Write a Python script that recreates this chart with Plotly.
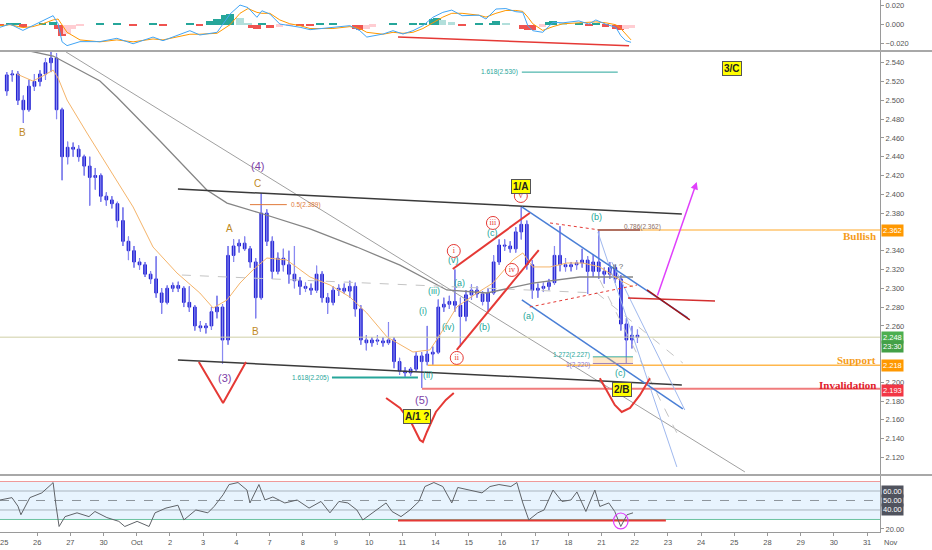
import plotly.graph_objects as go

# ---------------- axis / calendar ----------------
tick_labels = ["25", "26", "27", "30", "Oct", "2", "3", "4", "7", "8", "9", "10", "11", "14",
               "15", "16", "17", "18", "21", "22", "23", "24", "25", "28", "29", "30", "31", "Nov"]
BARS_PER_DAY = 6  # 4-hour bars, x unit = one trading day

# ---------------- price bars (OHLC) ----------------
opens = [2.510, 2.527, 2.528, 2.500, 2.490, 2.515,
         2.520, 2.528, 2.540, 2.545, 2.490, 2.440,
         2.450, 2.448, 2.440, 2.430, 2.418, 2.420,
         2.398, 2.394, 2.390, 2.372, 2.350, 2.340,
         2.328, 2.325, 2.315, 2.310, 2.295, 2.285,
         2.300, 2.303, 2.300, 2.285, 2.280, 2.260,
         2.258, 2.260, 2.275, 2.280, 2.245, 2.335,
         2.345, 2.348, 2.342, 2.328, 2.290, 2.380,
         2.350, 2.318, 2.332, 2.325, 2.315, 2.308,
         2.302, 2.300, 2.298, 2.315, 2.290, 2.285,
         2.298, 2.300, 2.297, 2.302, 2.278, 2.245,
         2.242, 2.245, 2.244, 2.242, 2.245, 2.222,
         2.212, 2.210, 2.214, 2.228, 2.222, 2.230,
         2.232, 2.280, 2.283, 2.286, 2.282, 2.270,
         2.293, 2.298, 2.294, 2.286, 2.295, 2.328,
         2.346, 2.345, 2.342, 2.360, 2.368, 2.325,
         2.298, 2.300, 2.302, 2.306, 2.335, 2.325,
         2.323, 2.325, 2.327, 2.330, 2.318, 2.328,
         2.318, 2.315, 2.322, 2.310, 2.262, 2.245,
         2.250]
highs = [2.530, 2.532, 2.531, 2.505, 2.522, 2.528,
         2.532, 2.545, 2.556, 2.550, 2.492, 2.456,
         2.455, 2.452, 2.442, 2.440, 2.428, 2.422,
         2.402, 2.398, 2.392, 2.386, 2.355, 2.345,
         2.332, 2.328, 2.318, 2.334, 2.300, 2.303,
         2.306, 2.307, 2.302, 2.302, 2.282, 2.265,
         2.263, 2.280, 2.292, 2.283, 2.345, 2.352,
         2.352, 2.355, 2.345, 2.332, 2.401, 2.384,
         2.355, 2.338, 2.342, 2.340, 2.345, 2.312,
         2.306, 2.305, 2.324, 2.318, 2.295, 2.302,
         2.304, 2.305, 2.308, 2.306, 2.282, 2.250,
         2.248, 2.250, 2.248, 2.264, 2.248, 2.226,
         2.216, 2.216, 2.232, 2.232, 2.260, 2.238,
         2.288, 2.290, 2.292, 2.320, 2.290, 2.298,
         2.304, 2.302, 2.297, 2.300, 2.335, 2.352,
         2.352, 2.350, 2.365, 2.387, 2.372, 2.330,
         2.305, 2.306, 2.310, 2.345, 2.366, 2.332,
         2.328, 2.330, 2.342, 2.334, 2.336, 2.362,
         2.322, 2.328, 2.325, 2.314, 2.268, 2.260,
         2.256]
lows = [2.505, 2.520, 2.495, 2.476, 2.488, 2.510,
        2.515, 2.522, 2.530, 2.480, 2.415, 2.432,
        2.440, 2.435, 2.420, 2.388, 2.405, 2.392,
        2.388, 2.385, 2.365, 2.345, 2.330, 2.322,
        2.320, 2.312, 2.305, 2.290, 2.273, 2.283,
        2.296, 2.296, 2.280, 2.275, 2.255, 2.254,
        2.252, 2.256, 2.268, 2.220, 2.240, 2.328,
        2.338, 2.340, 2.322, 2.268, 2.288, 2.345,
        2.310, 2.315, 2.318, 2.305, 2.300, 2.293,
        2.296, 2.293, 2.295, 2.285, 2.273, 2.282,
        2.292, 2.294, 2.290, 2.270, 2.240, 2.234,
        2.238, 2.240, 2.238, 2.240, 2.215, 2.208,
        2.206, 2.207, 2.212, 2.194, 2.218, 2.218,
        2.230, 2.275, 2.278, 2.275, 2.238, 2.265,
        2.288, 2.290, 2.282, 2.276, 2.293, 2.325,
        2.340, 2.338, 2.338, 2.352, 2.320, 2.289,
        2.290, 2.296, 2.298, 2.304, 2.318, 2.318,
        2.318, 2.320, 2.322, 2.294, 2.312, 2.310,
        2.305, 2.310, 2.306, 2.255, 2.220, 2.236,
        2.242]
closes = [2.527, 2.528, 2.500, 2.490, 2.515, 2.520,
          2.528, 2.540, 2.545, 2.490, 2.440, 2.450,
          2.448, 2.440, 2.430, 2.418, 2.420, 2.398,
          2.394, 2.390, 2.372, 2.350, 2.340, 2.328,
          2.325, 2.315, 2.310, 2.295, 2.285, 2.300,
          2.303, 2.300, 2.285, 2.280, 2.260, 2.258,
          2.260, 2.275, 2.280, 2.245, 2.335, 2.345,
          2.348, 2.342, 2.328, 2.290, 2.380, 2.350,
          2.318, 2.332, 2.325, 2.315, 2.308, 2.302,
          2.300, 2.298, 2.315, 2.290, 2.285, 2.298,
          2.300, 2.297, 2.302, 2.278, 2.245, 2.242,
          2.245, 2.244, 2.242, 2.245, 2.222, 2.212,
          2.210, 2.214, 2.228, 2.222, 2.230, 2.232,
          2.280, 2.283, 2.286, 2.282, 2.270, 2.293,
          2.298, 2.294, 2.286, 2.295, 2.328, 2.346,
          2.345, 2.342, 2.360, 2.368, 2.325, 2.298,
          2.300, 2.302, 2.306, 2.335, 2.325, 2.323,
          2.325, 2.327, 2.330, 2.318, 2.328, 2.318,
          2.315, 2.322, 2.310, 2.262, 2.245, 2.250,
          2.248]

# ---------------- moving averages ----------------
ma_fast_x = [0.39, 0.87, 1.17, 1.48, 1.63, 1.90, 2.50, 3.19, 3.89, 4.49, 5.21, 5.90, 6.30, 6.72,
             7.11, 7.50, 7.92, 8.52, 9.22, 9.82, 10.42, 10.93, 11.54, 12.32, 12.83, 13.13, 13.64,
             14.25, 14.73, 15.33, 15.63, 15.93, 16.45, 16.96, 17.44, 17.95, 18.55, 18.95]
ma_fast_y = [2.5279, 2.5205, 2.5258, 2.5322, 2.5237, 2.5003, 2.4652, 2.4259, 2.3865, 2.3439,
             2.3163, 2.2950, 2.2790, 2.2876, 2.3056, 2.3195, 2.3322, 2.3301, 2.3120, 2.3035,
             2.2907, 2.2737, 2.2482, 2.2322, 2.2344, 2.2503, 2.2801, 2.2950, 2.3056, 2.3301,
             2.3376, 2.3227, 2.3227, 2.3269, 2.3269, 2.3227, 2.3088, 2.3014]
ma_slow_x = [-0.12, 0.48, 1.48, 2.89, 3.40, 4.70, 6.11, 6.72, 7.71, 9.22, 10.63, 11.93, 13.34,
             14.55, 15.93, 17.35, 18.95]
ma_slow_y = [2.5567, 2.5546, 2.5471, 2.5205, 2.5035, 2.4567, 2.4046, 2.3907, 2.3801, 2.3631,
             2.3439, 2.3246, 2.2982, 2.2950, 2.3056, 2.3120, 2.3120]

# ---------------- MACD panel ----------------
macd_x = [-0.12, 0.18, 0.57, 0.87, 1.17, 1.48, 1.63, 1.75, 1.90, 2.29, 2.89, 3.40, 3.89, 4.49,
          4.79, 5.60, 5.90, 6.42, 6.81, 7.11, 7.35, 7.62, 7.77, 8.01, 8.31, 8.61, 8.92, 9.22,
          9.91, 10.42, 10.72, 10.93, 11.42, 11.72, 12.02, 12.32, 12.62, 12.92, 13.22, 13.49,
          13.80, 14.31, 14.52, 14.82, 15.12, 15.42, 15.63, 15.78, 15.93, 16.23, 16.54, 16.84,
          17.32, 17.62, 17.83, 18.13, 18.43, 18.58, 18.73, 18.89]
macd_line = [-0.0027, 0.0007, -0.0060, -0.0010, 0.0040, 0.0095, 0.0010, -0.0180, -0.0220,
             -0.0178, -0.0178, -0.0143, -0.0200, -0.0130, -0.0168, -0.0063, -0.0108, -0.0080,
             0.0112, 0.0207, 0.0180, 0.0078, 0.0147, 0.0112, 0.0007, -0.0010, -0.0027, -0.0052,
             -0.0027, -0.0010, -0.0063, -0.0130, -0.0098, -0.0063, -0.0098, -0.0063, -0.0010,
             0.0078, 0.0130, 0.0154, 0.0095, 0.0100, 0.0060, 0.0165, 0.0170, 0.0137, 0.0130,
             -0.0010, -0.0063, -0.0080, 0.0025, 0.0020, 0.0040, 0.0007, 0.0050, 0.0005, -0.0027,
             -0.0115, -0.0168, -0.0185]
macd_signal = [-0.0010, 0.0000, -0.0030, -0.0020, 0.0010, 0.0050, 0.0060, 0.0000, -0.0080,
               -0.0160, -0.0180, -0.0160, -0.0180, -0.0150, -0.0160, -0.0100, -0.0100, -0.0090,
               0.0000, 0.0120, 0.0170, 0.0130, 0.0120, 0.0120, 0.0050, 0.0010, -0.0010, -0.0040,
               -0.0040, -0.0020, -0.0040, -0.0080, -0.0100, -0.0080, -0.0090, -0.0080, -0.0040,
               0.0020, 0.0080, 0.0120, 0.0120, 0.0100, 0.0080, 0.0120, 0.0150, 0.0150, 0.0140,
               0.0080, 0.0010, -0.0060, -0.0020, 0.0010, 0.0020, 0.0020, 0.0030, 0.0020, 0.0000,
               -0.0040, -0.0100, -0.0160]
hist_x = [-0.12, 0.18, 0.39, 0.57, 0.87, 1.17, 1.48, 1.63, 1.75, 1.90, 2.05, 2.29, 2.89, 3.40,
          3.89, 4.49, 4.79, 5.60, 5.90, 6.20, 6.42, 6.66, 6.81, 7.11, 7.35, 7.47, 7.62, 7.77,
          8.01, 8.31, 8.61, 8.92, 9.22, 9.52, 9.91, 10.42, 10.60, 10.72, 10.93, 11.11, 11.42,
          11.72, 12.02, 12.32, 12.62, 12.92, 13.04, 13.22, 13.49, 13.80, 14.04, 14.31, 14.52,
          14.73, 14.82, 15.12, 15.42, 15.63, 15.78, 15.93, 16.23, 16.42, 16.54, 16.84, 17.32,
          17.62, 17.83, 18.13, 18.43, 18.58, 18.73, 18.89]
hist_vals = [-0.001, 0.001, 0.001, -0.002, 0.000, 0.002, 0.003, -0.004, -0.012, -0.010, -0.005,
             -0.001, 0.001, 0.001, -0.001, 0.002, -0.001, 0.002, -0.001, 0.004, 0.006, 0.010,
             0.011, 0.007, 0.002, -0.003, -0.005, 0.001, -0.003, -0.002, -0.001, -0.001, -0.001,
             0.001, 0.001, 0.000, -0.004, -0.006, -0.005, -0.002, 0.000, 0.001, 0.000, 0.002,
             0.002, 0.006, 0.007, 0.005, 0.003, -0.001, 0.000, 0.001, 0.000, 0.002, 0.004, 0.002,
             0.000, -0.004, -0.006, -0.006, -0.002, 0.003, 0.004, 0.001, 0.001, -0.001, 0.001,
             -0.002, -0.004, -0.006, -0.005, -0.003]
macd_div_x = [11.87, 18.83]
macd_div_y = [-0.0129, -0.0221]

# ---------------- RSI panel ----------------
rsi_x = [-0.12, 0.24, 0.42, 0.51, 0.78, 1.14, 1.42, 1.48, 1.57, 1.66, 1.84, 2.20, 2.56, 2.74,
         3.10, 3.46, 3.64, 4.01, 4.37, 4.55, 4.88, 5.24, 5.42, 5.78, 6.14, 6.33, 6.60, 6.78,
         7.05, 7.32, 7.41, 7.68, 7.86, 8.10, 8.46, 8.83, 9.19, 9.55, 9.82, 10.09, 10.36, 10.63,
         10.81, 11.17, 11.51, 11.69, 11.96, 12.23, 12.50, 12.68, 12.95, 13.22, 13.49, 13.67,
         14.04, 14.40, 14.64, 14.91, 15.27, 15.45, 15.63, 15.81, 16.08, 16.27, 16.54, 16.81,
         17.08, 17.26, 17.53, 17.80, 17.95, 18.22, 18.40, 18.58, 18.77, 18.95]
rsi_vals = [50.5, 53.0, 44.0, 35.0, 53.0, 58.0, 66.8, 68.9, 44.0, 22.6, 33.0, 37.0, 33.0, 38.4,
            32.0, 28.0, 22.6, 28.0, 22.6, 37.0, 42.0, 45.0, 29.5, 40.0, 37.0, 43.7, 56.0, 66.8,
            68.9, 61.0, 47.4, 66.8, 50.5, 53.7, 47.4, 50.5, 42.0, 49.0, 37.0, 49.0, 47.4, 40.0,
            29.5, 38.4, 47.4, 38.4, 33.0, 40.0, 49.0, 64.7, 68.9, 64.7, 47.4, 63.7, 61.0, 58.0,
            64.7, 66.8, 64.7, 68.9, 47.4, 29.5, 37.0, 40.0, 61.0, 49.0, 50.5, 59.0, 38.4, 61.0,
            43.7, 47.4, 38.4, 22.6, 35.0, 37.0]
rsi_upper, rsi_lower = 70, 30
rsi_guides = [60, 50, 40]
rsi_div_x = [11.87, 19.94]
rsi_div_y = [29.0, 29.0]
rsi_circle_x = [18.36, 18.80]
rsi_circle_y = [20.0, 36.8]

# ---------------- chart drawings (day index, price) ----------------
chan_up_x, chan_up_y = [5.24, 20.42], [2.4056, 2.3790]
chan_lo_x, chan_lo_y = [5.24, 20.42], [2.2237, 2.1971]
long_trend_x, long_trend_y = [1.87, 22.32], [2.5514, 2.1046]
blue_up_x, blue_up_y = [15.60, 20.60], [2.3865, 2.2684]
blue_lo_x, blue_lo_y = [15.60, 20.45], [2.2876, 2.1716]
lb1_x, lb1_y = [17.89, 20.27], [2.3599, 2.1099]
lb2_x, lb2_y = [18.31, 20.51], [2.3280, 2.1705]
dash1_x, dash1_y = [5.36, 17.86], [2.3141, 2.2950]
dash2_x, dash2_y = [17.86, 20.45], [2.2950, 2.2205]
dash3_x, dash3_y = [17.95, 20.27], [2.3088, 2.1461]
red_up_x, red_up_y = [13.52, 15.84], [2.3205, 2.3801]
red_lo_x, red_lo_y = [13.64, 16.11], [2.2344, 2.3407]
red_dot1_x, red_dot1_y = [16.45, 17.95], [2.3695, 2.3620]
red_dot2_x, red_dot2_y = [15.84, 19.07], [2.2801, 2.3035]
red_flat_x, red_flat_y = [18.80, 21.42], [2.2897, 2.2865]
red_diag_x, red_diag_y = [19.37, 20.66], [2.2982, 2.2663]
v3_x, v3_y = [5.87, 6.60, 7.29], [2.2216, 2.1780, 2.2216]
v5_x = [11.51, 11.93, 12.29, 12.53, 12.62, 12.74, 13.01, 13.31, 13.55]
v5_y = [2.1833, 2.1727, 2.1556, 2.1386, 2.1365, 2.1471, 2.1684, 2.1812, 2.1886]
v2b_x = [17.95, 18.19, 18.40, 18.61, 18.86, 19.16, 19.46]
v2b_y = [2.2043, 2.1895, 2.1758, 2.1684, 2.1727, 2.1865, 2.2043]
arrow_from = (19.67, 2.2907)
arrow_to = (20.87, 2.4131)

bullish_level, bullish_start = 2.362, 17.89
support_level, support_start = 2.218, 12.77
invalid_level, invalid_start = 2.193, 12.59
last_price = 2.248

fib_half_x, fib_half_y = [7.41, 8.52], 2.389
fib_1618a_x, fib_1618a_y = [9.88, 12.47], 2.205
fib_1272_x, fib_1272_y = [17.74, 18.95], 2.227
fib_100_x, fib_100_y = [17.74, 18.95], 2.220
fib_786_x, fib_786_y = [17.89, 19.16], 2.362
fib_1618b_x, fib_1618b_y = [15.60, 18.49], 2.530

purple_lbl = ["(4)", "(3)", "(5)"]
purple_x = [7.65, 6.63, 12.59]
purple_y = [2.4301, 2.2046, 2.1812]
brown_lbl = ["B", "C", "A", "B"]
brown_x = [0.56, 7.65, 6.78, 7.59]
brown_y = [2.4655, 2.4120, 2.3631, 2.2535]
teal_lbl = ["(i)", "(ii)", "(iii)", "(iv)", "(v)", "(a)", "(b)", "(c)", "(a)", "(b)", "(c)"]
teal_x = [12.62, 12.77, 12.95, 13.40, 13.55, 13.73, 14.49, 14.73, 15.81, 17.86, 18.58]
teal_y = [2.2759, 2.2078, 2.2971, 2.2588, 2.3301, 2.3056, 2.2588, 2.3588, 2.2705, 2.3759, 2.2099]
circ_lbl = ["i", "ii", "iii", "iv", "v"]
circ_x = [13.55, 13.64, 14.73, 15.30, 15.57]
circ_y = [2.3397, 2.2259, 2.3695, 2.3195, 2.3982]
box_lbl = ["1/A", "A/1 ?", "2/B", "3/C"]
box_x = [15.57, 12.44, 18.61, 21.93]
box_y = [2.4088, 2.1641, 2.1918, 2.5343]
q_lbl, q_x, q_y = "ii ?", 18.52, 2.3227

# price ticks (2.360, 2.240, 2.220 sit under the coloured price badges)
price_ticks = [2.12, 2.14, 2.16, 2.18, 2.20, 2.26, 2.28, 2.30, 2.32, 2.34,
               2.38, 2.40, 2.42, 2.44, 2.46, 2.48, 2.50, 2.52, 2.54]
macd_ticks = [-0.02, 0.0, 0.02]

# ---------------- build figure ----------------
X_RANGE = [-0.12, 26.39]
bar_x = [(i + 0.5) / BARS_PER_DAY for i in range(len(closes))]
fig = go.Figure()


def line(xs, ys, color, width=1.0, dash="solid", xa="x2", ya="y2"):
    fig.add_trace(go.Scatter(x=xs, y=ys, mode="lines", xaxis=xa, yaxis=ya,
                             line=dict(color=color, width=width, dash=dash),
                             hoverinfo="skip", showlegend=False))


# MACD panel
hist_colors = []
prev = 0.0
for v in hist_vals:
    if v >= 0:
        hist_colors.append("#26a69a" if v >= prev else "#b2dfdb")
    else:
        hist_colors.append("#ef5350" if v <= prev else "#ffcdd2")
    prev = v
fig.add_trace(go.Bar(x=hist_x, y=hist_vals, width=0.22, marker=dict(color=hist_colors, line=dict(width=0)),
                     xaxis="x", yaxis="y", showlegend=False, hoverinfo="skip"))
line(macd_x, macd_signal, "#ff9800", 1.0, xa="x", ya="y")
line(macd_x, macd_line, "#42a5f5", 1.0, xa="x", ya="y")
line(macd_div_x, macd_div_y, "#e53935", 1.5, xa="x", ya="y")

# price panel – background drawings
line(long_trend_x, long_trend_y, "#a0a0a0", 1.0)
line(ma_slow_x, ma_slow_y, "#858585", 1.3)
line(ma_fast_x, ma_fast_y, "#f5b46a", 1.0)
line(dash1_x, dash1_y, "#c4c4c4", 1.0, "dash")
line(dash2_x, dash2_y, "#c4c4c4", 1.0, "dash")
line(dash3_x, dash3_y, "#c4c4c4", 1.0, "dash")
line([X_RANGE[0], X_RANGE[1]], [last_price, last_price], "#cfcfa6", 1.0)
line([bullish_start, X_RANGE[1]], [bullish_level] * 2, "#ffa726", 1.0)
line([support_start, X_RANGE[1]], [support_level] * 2, "#ffb74d", 1.5)
line([invalid_start, X_RANGE[1]], [invalid_level] * 2, "#f07c7c", 2.0)
line(chan_up_x, chan_up_y, "#3a3a3a", 1.5)
line(chan_lo_x, chan_lo_y, "#3a3a3a", 1.5)
line(lb1_x, lb1_y, "#9fb8ee", 1.0)
line(lb2_x, lb2_y, "#9fb8ee", 1.0)
line(blue_up_x, blue_up_y, "#4a7fd6", 1.5)
line(blue_lo_x, blue_lo_y, "#4a7fd6", 1.5)
line(red_dot1_x, red_dot1_y, "#e53935", 1.0, "dot")
line(red_dot2_x, red_dot2_y, "#e53935", 1.0, "dot")
line(red_flat_x, red_flat_y, "#d32f2f", 1.5)
line(red_diag_x, red_diag_y, "#a31515", 1.5)

# fib levels
fig.add_shape(type="rect", xref="x2", yref="y2", x0=fib_100_x[0], x1=fib_100_x[1],
              y0=fib_100_y, y1=fib_1272_y, fillcolor="rgba(255,183,77,0.30)", line=dict(width=0))
line(fib_half_x, [fib_half_y] * 2, "#e07a3a", 1.0)
line(fib_1618a_x, [fib_1618a_y] * 2, "#26a69a", 2.0)
line(fib_1272_x, [fib_1272_y] * 2, "#26a69a", 1.0)
line(fib_100_x, [fib_100_y] * 2, "#8c7ad0", 1.0)
line(fib_786_x, [fib_786_y] * 2, "#b07060", 2.0)
line(fib_1618b_x, [fib_1618b_y] * 2, "#26a69a", 1.0)

# candles: light wicks underneath, dark bodies on top
fig.add_trace(go.Ohlc(x=bar_x, open=opens, high=highs, low=lows, close=closes,
                      xaxis="x2", yaxis="y2", showlegend=False, hoverinfo="skip", tickwidth=0,
                      increasing=dict(line=dict(color="#8a8af2", width=1.2)),
                      decreasing=dict(line=dict(color="#8a8af2", width=1.2))))
fig.add_trace(go.Candlestick(x=bar_x, open=opens, high=highs, low=lows, close=closes,
                             xaxis="x2", yaxis="y2", showlegend=False, hoverinfo="skip",
                             whiskerwidth=0,
                             increasing=dict(line=dict(color="#2020d2", width=1), fillcolor="#2020d2"),
                             decreasing=dict(line=dict(color="#2020d2", width=1), fillcolor="#2020d2")))

# red wave channel and V marks
line(red_up_x, red_up_y, "#e53935", 2.0)
line(red_lo_x, red_lo_y, "#e53935", 2.0)
line(v3_x, v3_y, "#e53935", 2.0)
line(v5_x, v5_y, "#e53935", 2.0)
line(v2b_x, v2b_y, "#e53935", 2.0)

# circled roman numerals
fig.add_trace(go.Scatter(x=circ_x, y=circ_y, mode="markers+text", text=circ_lbl,
                         textposition="middle center", xaxis="x2", yaxis="y2",
                         textfont=dict(color="#e53935", size=8, family="Liberation Serif"),
                         marker=dict(symbol="circle", size=13, color="rgba(255,255,255,0.85)",
                                     line=dict(color="#e53935", width=1)),
                         showlegend=False, hoverinfo="skip"))

# RSI panel
fig.add_shape(type="rect", xref="x3", yref="y3", x0=X_RANGE[0], x1=X_RANGE[1], y0=rsi_lower,
              y1=rsi_upper, fillcolor="rgba(33,150,243,0.10)", line=dict(width=0), layer="below")
line(X_RANGE, [rsi_upper] * 2, "#ef9a9a", 1.0, xa="x3", ya="y3")
line(X_RANGE, [rsi_lower] * 2, "#6cc3a0", 1.0, xa="x3", ya="y3")
line(X_RANGE, [rsi_guides[0]] * 2, "#a9b4be", 1.0, xa="x3", ya="y3")
line(X_RANGE, [rsi_guides[1]] * 2, "#8d959c", 1.0, "dash", xa="x3", ya="y3")
line(X_RANGE, [rsi_guides[2]] * 2, "#a9b4be", 1.0, xa="x3", ya="y3")
line(rsi_div_x, rsi_div_y, "#e53935", 2.0, xa="x3", ya="y3")
line(rsi_x, rsi_vals, "#5f6368", 1.0, xa="x3", ya="y3")
fig.add_shape(type="circle", xref="x3", yref="y3", x0=rsi_circle_x[0], x1=rsi_circle_x[1],
              y0=rsi_circle_y[0], y1=rsi_circle_y[1], line=dict(color="#e040fb", width=1.2))

# ---------------- annotations ----------------
ann = []
for t, x, y in zip(purple_lbl, purple_x, purple_y):
    ann.append(dict(text=t, x=x, y=y, xref="x2", yref="y2", showarrow=False,
                    font=dict(color="#7e3fa8", size=11, family="Liberation Sans")))
for t, x, y in zip(brown_lbl, brown_x, brown_y):
    ann.append(dict(text=t, x=x, y=y, xref="x2", yref="y2", showarrow=False,
                    font=dict(color="#c08a1e", size=10, family="Liberation Sans")))
for t, x, y in zip(teal_lbl, teal_x, teal_y):
    ann.append(dict(text=t, x=x, y=y, xref="x2", yref="y2", showarrow=False,
                    font=dict(color="#22a699", size=9, family="Liberation Sans")))
for t, x, y in zip(box_lbl, box_x, box_y):
    ann.append(dict(text="<b>%s</b>" % t, x=x, y=y, xref="x2", yref="y2", showarrow=False,
                    bgcolor="#ffff00", bordercolor="#555555", borderwidth=1, borderpad=1,
                    font=dict(color="#222222", size=10, family="Liberation Sans")))
ann.append(dict(text=q_lbl, x=q_x, y=q_y, xref="x2", yref="y2", showarrow=False,
                font=dict(color="#666666", size=8, family="Liberation Sans")))
# fib labels
small = dict(size=6.5, family="Liberation Sans")
ann.append(dict(text="0.5(2.389)", x=fib_half_x[1], y=fib_half_y, xref="x2", yref="y2", showarrow=False,
                xanchor="left", xshift=2, font=dict(color="#e07a3a", **small)))
ann.append(dict(text="1.618(2.205)", x=fib_1618a_x[0], y=fib_1618a_y, xref="x2", yref="y2", showarrow=False,
                xanchor="right", xshift=-1, font=dict(color="#26a69a", **small)))
ann.append(dict(text="1.272(2.227)", x=fib_1272_x[0], y=fib_1272_y, xref="x2", yref="y2", showarrow=False,
                xanchor="right", xshift=-1, yshift=2, font=dict(color="#26a69a", **small)))
ann.append(dict(text="1(2.220)", x=fib_100_x[0], y=fib_100_y, xref="x2", yref="y2", showarrow=False,
                xanchor="right", xshift=-1, yshift=-2, font=dict(color="#8c7ad0", **small)))
ann.append(dict(text="0.786(2.362)", x=fib_786_x[0], y=fib_786_y, xref="x2", yref="y2", showarrow=False,
                xanchor="left", xshift=24, yshift=3, font=dict(color="#8d6e63", **small)))
ann.append(dict(text="1.618(2.530)", x=fib_1618b_x[0], y=fib_1618b_y, xref="x2", yref="y2", showarrow=False,
                xanchor="right", xshift=-2, font=dict(color="#26a69a", **small)))
# magenta arrow
ann.append(dict(text="", x=arrow_to[0], y=arrow_to[1], ax=arrow_from[0], ay=arrow_from[1],
                xref="x2", yref="y2", axref="x2", ayref="y2", showarrow=True,
                arrowhead=2, arrowsize=1, arrowwidth=1.5, arrowcolor="#e040fb"))
# level texts
serif = "Liberation Serif"
ann.append(dict(text="<b>Bullish</b>", x=1, y=bullish_level, xref="paper", yref="y2", showarrow=False,
                xanchor="right", yanchor="top", yshift=2, xshift=-2,
                font=dict(color="#f59c1a", size=11, family=serif)))
ann.append(dict(text="<b>Support</b>", x=1, y=support_level, xref="paper", yref="y2", showarrow=False,
                xanchor="right", yanchor="bottom", yshift=-3, xshift=-2,
                font=dict(color="#f59c1a", size=11, family=serif)))
ann.append(dict(text="<b>Invalidation</b>", x=1, y=invalid_level, xref="paper", yref="y2", showarrow=False,
                xanchor="right", yanchor="bottom", yshift=-4, xshift=-2,
                font=dict(color="#e0202a", size=11, family=serif)))
# price scale badges
badge_font = dict(color="white", size=7.5, family="Liberation Sans")
for txt, val, col, ys in [("2.362", bullish_level, "#ff9800", 0), ("2.248", last_price, "#4caf50", 0),
                          ("23:30", last_price, "#43a047", -9), ("2.218", support_level, "#ff9800", 0),
                          ("2.193", invalid_level, "#f23645", -1.5)]:
    ann.append(dict(text=txt, x=1, y=val, xref="paper", yref="y2", showarrow=False, xanchor="left",
                    xshift=1, yshift=ys, bgcolor=col, borderpad=1, font=badge_font))
for g in rsi_guides:
    ann.append(dict(text="%.2f" % g, x=1, y=g, xref="paper", yref="y3", showarrow=False, xanchor="left",
                    xshift=1, bgcolor="#50535e", borderpad=1, font=badge_font))
ann.append(dict(text=tick_labels[-1], x=900 / 880, y=0, xref="paper", yref="paper", yanchor="top", yshift=-4,
                showarrow=False, font=dict(color="#555555", size=7.5, family="Liberation Sans")))
ann.append(dict(text=tick_labels[0], x=0, y=0, xref="x3", yref="paper", yanchor="top", yshift=-4,
                showarrow=False, font=dict(color="#555555", size=7.5, family="Liberation Sans")))

# ---------------- layout ----------------
H_PLOT = 532.0
axis_font = dict(color="#555555", size=7.5, family="Liberation Sans")
common_x = dict(range=X_RANGE, showgrid=False, zeroline=False, fixedrange=True)
common_y = dict(side="right", showgrid=False, zeroline=False, ticks="outside", ticklen=3,
                tickcolor="#999999", tickfont=axis_font, showline=True, linecolor="#9a9a9a",
                linewidth=1, mirror=False)
fig.update_layout(
    width=932, height=550, margin=dict(l=0, r=52, t=0, b=18),
    paper_bgcolor="white", plot_bgcolor="white", showlegend=False, bargap=0,
    annotations=ann,
    xaxis=dict(anchor="y", domain=[0, 1], showticklabels=False, **common_x),
    xaxis2=dict(anchor="y2", domain=[0, 1], showticklabels=False, rangeslider=dict(visible=False),
                **common_x),
    xaxis3=dict(anchor="y3", domain=[0, 1], tickvals=list(range(1, len(tick_labels))),
                ticktext=tick_labels[1:],
                tickfont=axis_font, ticks="outside", ticklen=3, tickcolor="#999999",
                showline=True, linecolor="#9a9a9a", **common_x),
    yaxis=dict(anchor="x", domain=[(H_PLOT - 50) / H_PLOT, 1], range=[-0.0266, 0.026],
               tickvals=macd_ticks, tickformat=".3f", **common_y),
    yaxis2=dict(anchor="x2", domain=[(H_PLOT - 474) / H_PLOT, (H_PLOT - 52) / H_PLOT],
                range=[2.1024, 2.5514], tickvals=price_ticks, tickformat=".3f", **common_y),
    yaxis3=dict(anchor="x3", domain=[0, (H_PLOT - 476) / H_PLOT], range=[16.8, 75.8],
                tickvals=[20], tickformat=".2f", **common_y),
)
# panel separators
for yy in [(H_PLOT - 51) / H_PLOT, (H_PLOT - 475) / H_PLOT]:
    fig.add_shape(type="line", xref="paper", yref="paper", x0=0, x1=1.06, y0=yy, y1=yy,
                  line=dict(color="#a8a8a8", width=2))

fig.write_html("out.html", config={"displayModeBar": False},
               post_script="document.body.style.margin='0px';document.body.style.overflow='hidden';")
